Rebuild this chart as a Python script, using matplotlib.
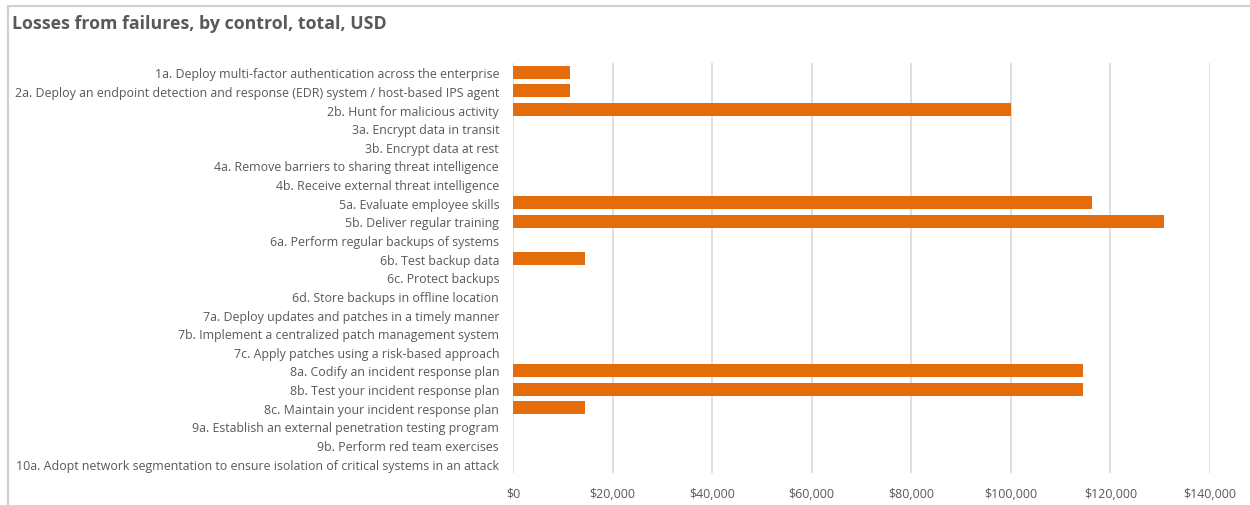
import matplotlib.pyplot as plt
from matplotlib.ticker import FuncFormatter
from matplotlib.patches import Rectangle

controls = [
    "1a. Deploy multi-factor authentication across the enterprise",
    "2a. Deploy an endpoint detection and response (EDR) system / host-based IPS agent",
    "2b. Hunt for malicious activity",
    "3a. Encrypt data in transit",
    "3b. Encrypt data at rest",
    "4a. Remove barriers to sharing threat intelligence",
    "4b. Receive external threat intelligence",
    "5a. Evaluate employee skills",
    "5b. Deliver regular training",
    "6a. Perform regular backups of systems",
    "6b. Test backup data",
    "6c. Protect backups",
    "6d. Store backups in offline location",
    "7a. Deploy updates and patches in a timely manner",
    "7b. Implement a centralized patch management system",
    "7c. Apply patches using a risk-based approach",
    "8a. Codify an incident response plan",
    "8b. Test your incident response plan",
    "8c. Maintain your incident response plan",
    "9a. Establish an external penetration testing program",
    "9b. Perform red team exercises",
    "10a. Adopt network segmentation to ensure isolation of critical systems in an attack",
]
losses = [11500, 11500, 100000, 0, 0, 0, 0, 116300, 130700, 0, 14500, 0, 0,
          0, 0, 0, 114500, 114500, 14500, 0, 0, 0]
x_ticks = [0, 20000, 40000, 60000, 80000, 100000, 120000, 140000]

text_color = "#595959"
plt.rcParams["font.family"] = ["Open Sans", "DejaVu Sans"]

fig = plt.figure(figsize=(12.5, 5.06), dpi=100)
# chart frame
fig.patches.append(Rectangle((8 / 1250, -0.01), 1.1, 1 - 7 / 506 + 0.01,
                             transform=fig.transFigure, fill=False,
                             edgecolor="#d0d0d0", linewidth=1.5))

ax = fig.add_axes([513 / 1250, 32 / 506, 697 / 1250, 410 / 506])
ypos = list(range(len(controls)))
ax.barh(ypos, losses, height=0.7, color="#E46C0A", zorder=3)
ax.set_ylim(len(controls) - 0.5, -0.5)
ax.set_yticks(ypos)
ax.set_yticklabels(controls, fontsize=8.9, color=text_color)
ax.set_xlim(0, 140000)
ax.set_xticks(x_ticks)
ax.xaxis.set_major_formatter(FuncFormatter(lambda v, p: f"${v:,.0f}"))
ax.tick_params(axis="x", labelsize=8.9, colors=text_color, length=0, pad=10)
ax.tick_params(axis="y", length=0, pad=10)
ax.grid(axis="x", color="#d9d9d9", linewidth=1.2, zorder=0)
for s in ax.spines.values():
    s.set_visible(False)

fig.text(12 / 1250, 1 - 24 / 506, "Losses from failures, by control, total, USD",
         fontsize=12.8, fontweight="bold", color=text_color, va="center")

fig.savefig("out.png", dpi=100)
